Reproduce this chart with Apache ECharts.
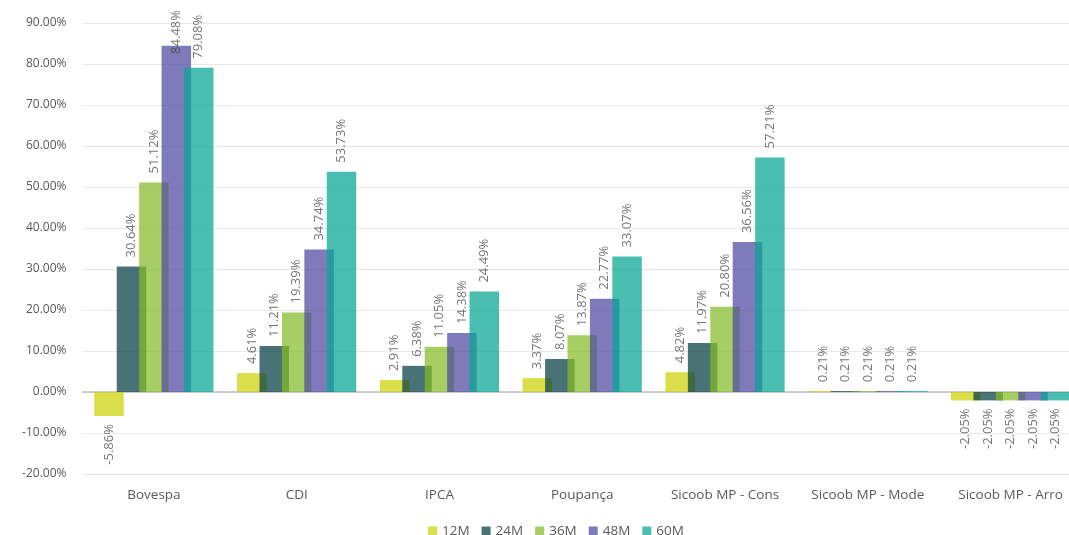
<!DOCTYPE html>
<html>
<head>
<meta charset="utf-8">
<script src="https://cdn.jsdelivr.net/npm/echarts@6/dist/echarts.min.js"></script>
<style>html,body{margin:0;padding:0;background:#fff;overflow:hidden;width:1069px;height:535px}#c{width:1086px;height:535px}</style>
</head>
<body>
<div id="c"></div>
<script>
var categories = ['Bovespa', 'CDI', 'IPCA', 'Poupança', 'Sicoob MP - Cons', 'Sicoob MP - Mode', 'Sicoob MP - Arro'];
var seriesNames = ['12M', '24M', '36M', '48M', '60M'];
var v12M = [-5.86, 4.61, 2.91, 3.37, 4.82, 0.21, -2.05];
var v24M = [30.64, 11.21, 6.38, 8.07, 11.97, 0.21, -2.05];
var v36M = [51.12, 19.39, 11.05, 13.87, 20.80, 0.21, -2.05];
var v48M = [84.48, 34.74, 14.38, 22.77, 36.56, 0.21, -2.05];
var v60M = [79.08, 53.73, 24.49, 33.07, 57.21, 0.21, -2.05];
var yMin = -20, yMax = 90, yStep = 10;

var allValues = [v12M, v24M, v36M, v48M, v60M];
var colors = ['#ccd103', '#033c41', '#83bb25', '#4e489f', '#05a594'];
var FONT = 'Open Sans';
var LABEL_SIZE = 13;
var LABEL_DIST = 9;
var TOP_LIMIT = 10;

function fmt(v) { return v.toFixed(2) + '%'; }

function makeData(vals, distances) {
  return vals.map(function (v, j) {
    if (v < 0) {
      return { value: v, label: { position: 'bottom', align: 'right', verticalAlign: 'middle', rotate: 90, distance: 8 } };
    }
    return { value: v, label: { position: 'top', align: 'left', verticalAlign: 'middle', rotate: 90,
      distance: distances ? distances[j] : LABEL_DIST } };
  });
}

function buildSeries(distAll) {
  return seriesNames.map(function (name, i) {
    return {
      name: name,
      type: 'bar',
      data: makeData(allValues[i], distAll ? distAll[i] : null),
      barWidth: 29.5,
      barGap: '-24%',
      itemStyle: { color: colors[i], opacity: 0.72 },
      label: {
        show: true,
        fontFamily: FONT,
        fontSize: LABEL_SIZE,
        color: '#404040',
        formatter: function (p) { return fmt(p.value); }
      }
    };
  });
}

var chart = echarts.init(document.getElementById('c'));
chart.setOption({
  animation: false,
  textStyle: { fontFamily: FONT },
  grid: { left: 82.5, right: 4, top: 23, bottom: 61, containLabel: false },
  legend: {
    top: 519,
    left: 423,
    itemWidth: 9,
    itemHeight: 9,
    itemGap: 12,
    icon: 'rect',
    textStyle: { fontFamily: FONT, fontSize: 13.5, color: '#595959' },
    data: seriesNames
  },
  xAxis: {
    type: 'category',
    data: categories,
    axisLine: { lineStyle: { color: '#bfbfbf', width: 1.5 } },
    axisTick: { show: false },
    axisLabel: { fontFamily: FONT, fontSize: 13.5, color: '#595959', margin: 14, interval: 0 }
  },
  yAxis: {
    type: 'value',
    min: yMin,
    max: yMax,
    interval: yStep,
    axisLine: { show: false },
    axisTick: { show: false },
    splitLine: { lineStyle: { color: '#e8e8e8', width: 1 } },
    axisLabel: {
      fontFamily: FONT, fontSize: 12, color: '#595959', margin: 16,
      formatter: function (v) { return v.toFixed(2) + '%'; }
    }
  },
  series: buildSeries(null)
});

// keep labels inside the chart top edge (like the reference)
var ctx = document.createElement('canvas').getContext('2d');
ctx.font = LABEL_SIZE + 'px "' + FONT + '"';
var distAll = allValues.map(function (vals, i) {
  return vals.map(function (v, j) {
    if (v < 0) return LABEL_DIST;
    var py = chart.convertToPixel({ seriesIndex: i }, [j, v])[1];
    var w = ctx.measureText(fmt(v)).width;
    if (py - LABEL_DIST - w < TOP_LIMIT) return py - TOP_LIMIT - w;
    return LABEL_DIST;
  });
});
chart.setOption({ series: buildSeries(distAll) });
</script>
</body>
</html>
